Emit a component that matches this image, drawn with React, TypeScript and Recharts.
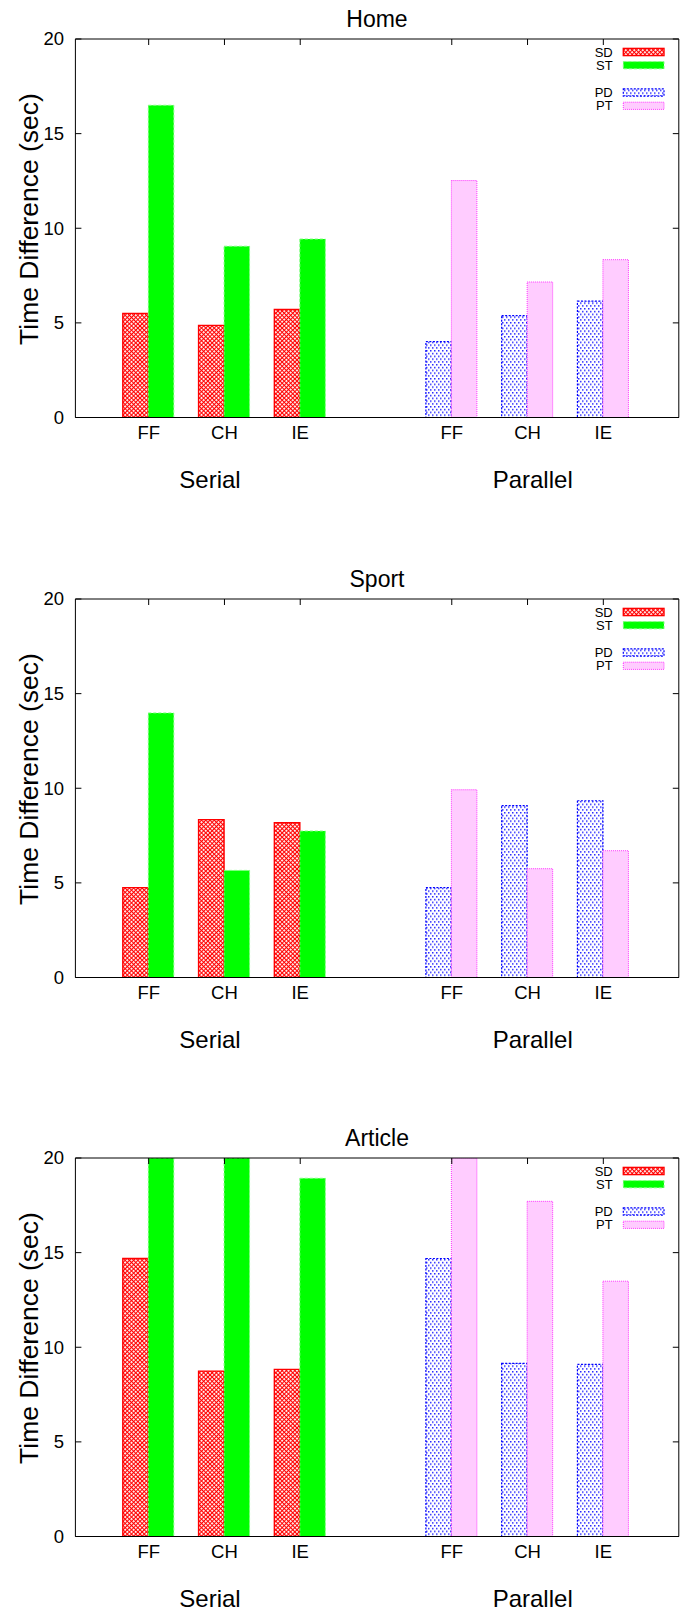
import React from 'react';
import { BarChart, Bar, XAxis, YAxis } from 'recharts';

const SLOTS = ['sFF', 'sCH', 'sIE', 'gap', 'pFF', 'pCH', 'pIE'];
const SLOT_LABELS = ['FF', 'CH', 'IE', '', 'FF', 'CH', 'IE'];
const GROUP_LABELS = ['Serial', 'Parallel'];
const Y_TICKS = [0, 5, 10, 15, 20];
const TITLES = ['Home', 'Sport', 'Article'];

// serial = SD/ST, parallel = PD/PT, order FF, CH, IE
const HOME_SD = [5.5, 4.87, 5.71];
const HOME_ST = [16.5, 9.05, 9.43];
const HOME_PD = [4.01, 5.38, 6.15];
const HOME_PT = [12.52, 7.16, 8.34];

const SPORT_SD = [4.75, 8.34, 8.18];
const SPORT_ST = [13.98, 5.66, 7.74];
const SPORT_PD = [4.75, 9.08, 9.34];
const SPORT_PT = [9.92, 5.75, 6.7];

// values past 20 are cut off by the axis in the original
const ARTICLE_SD = [14.69, 8.74, 8.83];
const ARTICLE_ST = [20, 20, 18.93];
const ARTICLE_PD = [14.69, 9.15, 9.1];
const ARTICLE_PT = [20, 17.71, 13.49];

const FONT = "'Liberation Sans', Arial, Helvetica, sans-serif";
const NARROW = "'Liberation Sans Narrow', 'Liberation Sans', Arial, sans-serif";

const W = 684;
const H = 560;
const PANEL_TOPS = [0, 560, 1118.5];

const SERIES = [
  { key: 'SD', stack: 'left', fill: 'url(#sdPat)', stroke: '#ff0000', dash: undefined, sw: 1.4 },
  { key: 'ST', stack: 'right', fill: '#00ff00', stroke: '#80ff80', dash: '3 2', sw: 1 },
  { key: 'PD', stack: 'left', fill: 'url(#pdPat)', stroke: '#0000ff', dash: '2 1.5', sw: 1.2 },
  { key: 'PT', stack: 'right', fill: '#ffccff', stroke: '#ff33ff', dash: '1 1', sw: 1 },
];

const buildRows = (sd: number[], st: number[], pd: number[], pt: number[]) =>
  SLOTS.map((slot, i) => {
    const serial = i < 3;
    const parallel = i > 3;
    const j = serial ? i : i - 4;
    return {
      slot,
      SD: serial ? sd[j] : 0,
      ST: serial ? st[j] : 0,
      PD: parallel ? pd[j] : 0,
      PT: parallel ? pt[j] : 0,
    };
  });

const PANELS = [
  buildRows(HOME_SD, HOME_ST, HOME_PD, HOME_PT),
  buildRows(SPORT_SD, SPORT_ST, SPORT_PD, SPORT_PT),
  buildRows(ARTICLE_SD, ARTICLE_ST, ARTICLE_PD, ARTICLE_PT),
];

const LeftTick = ({ x, y, payload }: any) => (
  <g>
    <line x1={x} y1={y} x2={x + 6} y2={y} stroke="#000" />
    <text x={x - 11.4} y={y} dy="0.35em" textAnchor="end" fontSize={18.5} fontFamily={FONT} fill="#000">
      {payload.value}
    </text>
  </g>
);

const RightTick = ({ x, y }: any) => <line x1={x - 6} y1={y} x2={x} y2={y} stroke="#000" />;

const TopTick = ({ x, y, payload }: any) =>
  payload.value === 'gap' ? <g /> : <line x1={x} y1={y} x2={x} y2={y + 6} stroke="#000" />;

const legendRows = [
  { s: SERIES[0], y: 52 },
  { s: SERIES[1], y: 65.2 },
  { s: SERIES[2], y: 92.5 },
  { s: SERIES[3], y: 105.8 },
];

const Panel = ({ title, rows, top }: { title: string; rows: any[]; top: number }) => (
  <div style={{ position: 'absolute', left: 0, top, width: W, height: H }}>
    <BarChart
      width={W}
      height={H}
      data={rows}
      margin={{ top: 38, right: 4.2, left: 15.4, bottom: 112.5 }}
      barGap={0}
      barSize={25.5}
    >
      <XAxis
        dataKey="slot"
        height={30}
        interval={0}
        padding={{ left: 35.4, right: 37.6 }}
        tickLine={false}
        tickSize={0}
        tickMargin={8}
        axisLine={{ stroke: '#000' }}
        tickFormatter={(v: string) => SLOT_LABELS[SLOTS.indexOf(v)]}
        tick={{ fill: '#000', fontSize: 18.5, fontFamily: FONT }}
      />
      <XAxis
        xAxisId="top"
        orientation="top"
        dataKey="slot"
        height={1}
        interval={0}
        padding={{ left: 35.4, right: 37.6 }}
        tickLine={false}
        tickSize={0}
        tickMargin={0}
        axisLine={{ stroke: '#000' }}
        tick={<TopTick />}
      />
      <YAxis
        type="number"
        width={60}
        domain={[0, 20]}
        ticks={Y_TICKS}
        interval={0}
        allowDataOverflow
        tickLine={false}
        tickSize={0}
        tickMargin={0}
        axisLine={{ stroke: '#000' }}
        tick={<LeftTick />}
      />
      <YAxis
        yAxisId="right"
        orientation="right"
        type="number"
        width={1}
        domain={[0, 20]}
        ticks={Y_TICKS}
        interval={0}
        allowDataOverflow
        tickLine={false}
        tickSize={0}
        tickMargin={0}
        axisLine={{ stroke: '#000' }}
        tick={<RightTick />}
      />
      {SERIES.map((s) => (
        <Bar
          key={s.key}
          dataKey={s.key}
          name={s.key}
          stackId={s.stack}
          fill={s.fill}
          stroke={s.stroke}
          strokeWidth={s.sw}
          strokeDasharray={s.dash}
          isAnimationActive={false}
        />
      ))}
    </BarChart>
    <svg width={W} height={H} style={{ position: 'absolute', left: 0, top: 0, pointerEvents: 'none' }}>
      <text x={377} y={26.7} textAnchor="middle" fontSize={23} fontFamily={FONT} fill="#000">
        {title}
      </text>
      <text transform="translate(37.5,219) rotate(-90)" textAnchor="middle" fontSize={26.5} fontFamily={FONT} fill="#000">
        Time Difference (sec)
      </text>
      <text x={210} y={488.3} textAnchor="middle" fontSize={24} fontFamily={FONT} fill="#000">
        {GROUP_LABELS[0]}
      </text>
      <text x={532.7} y={488.3} textAnchor="middle" fontSize={24} fontFamily={FONT} fill="#000">
        {GROUP_LABELS[1]}
      </text>
      {legendRows.map(({ s, y }) => (
        <g key={s.key}>
          <text x={612.7} y={y} dy="0.36em" textAnchor="end" fontSize={13} fontFamily={NARROW} fill="#000">
            {s.key}
          </text>
          <rect
            x={623.3}
            y={y - 3.6}
            width={40.7}
            height={7.2}
            fill={s.fill}
            stroke={s.stroke}
            strokeWidth={s.sw}
            strokeDasharray={s.dash}
          />
        </g>
      ))}
    </svg>
  </div>
);

export default function App() {
  return (
    <div style={{ position: 'absolute', left: 0, top: 0, width: W, height: 1620, background: '#fff' }}>
      <svg width={0} height={0} style={{ position: 'absolute' }}>
        <defs>
          <pattern id="sdPat" patternUnits="userSpaceOnUse" width={3} height={3} patternTransform="rotate(45)">
            <rect width={3} height={3} fill="#ff0000" />
            <rect width={1.9} height={1.9} fill="#ffffff" />
          </pattern>
          <pattern id="pdPat" patternUnits="userSpaceOnUse" width={4} height={5.6}>
            <rect width={4} height={5.6} fill="#ffffff" />
            <rect x={0} y={0} width={1.5} height={1.5} fill="#2a2aff" />
            <rect x={2} y={2.8} width={1.5} height={1.5} fill="#2a2aff" />
          </pattern>
        </defs>
      </svg>
      {PANELS.map((rows, i) => (
        <Panel key={TITLES[i]} title={TITLES[i]} rows={rows} top={PANEL_TOPS[i]} />
      ))}
    </div>
  );
}
